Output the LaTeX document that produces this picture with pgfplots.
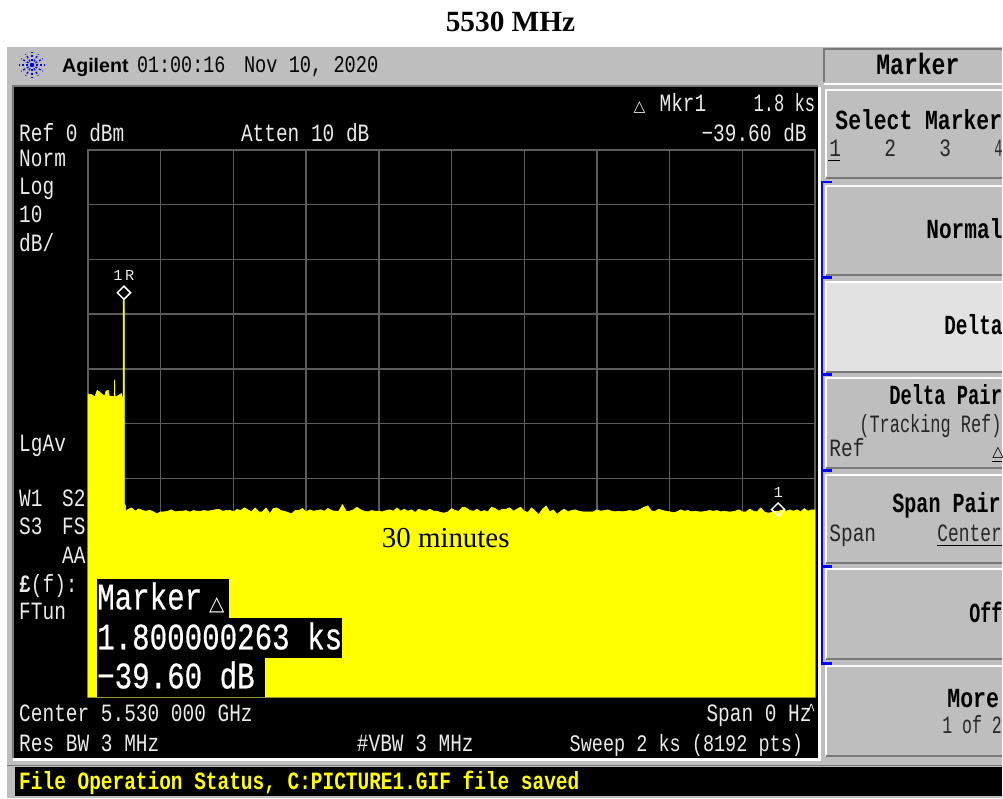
\documentclass[border=0pt]{standalone}
\usepackage{fontspec}
\usepackage{pgfplots}
\pgfplotsset{compat=1.18}
\setmainfont{Liberation Serif}
\newfontfamily\agm{Liberation Mono}
\newfontfamily\agh[FakeBold=0.6]{Liberation Mono}
\newfontfamily\ags{Liberation Sans}
\newfontfamily\agd{DejaVu Sans}

% reference is 1003x799 px, 1 px = 0.75 pt
\definecolor{panel}{RGB}{190,190,190}
\definecolor{lit}{RGB}{226,226,226}
\definecolor{edge}{RGB}{120,120,120}
\definecolor{gridc}{RGB}{92,92,92}
\definecolor{scr}{RGB}{235,235,235}
\definecolor{trace}{RGB}{255,255,0}
\definecolor{keyb}{RGB}{0,0,255}

\newcommand{\fs}[1]{\fontsize{#1pt}{#1pt}\selectfont}
\newcommand{\st}[2][1]{\scalebox{#1}[1.28]{#2}}
% screen text, small
\newcommand{\scrtx}[4][1]{\node[anchor=base west,inner sep=0pt,text=scr,font=\agm\fs{14.6}] at (#2,#3) {\st[#1]{#4}};}
% softkey text, first argument squeezes it to the reference's width
\newcommand{\keyb}[4][1]{\node[anchor=base west,inner sep=0pt,text=black,font=\agm\bfseries\fs{16.2}] at (#2,#3) {\st[#1]{#4}};}
\newcommand{\keyr}[4][1]{\node[anchor=base west,inner sep=0pt,text=black!85,font=\agm\fs{14.6}] at (#2,#3) {\st[#1]{#4}};}
% big readout
\newcommand{\readout}[3]{\node[anchor=base west,inner sep=0pt,text=white,font=\agh\fs{21.9}] at (#1,#2) {\st{#3}};}
% one softkey: top, bottom, fill
\newcommand{\softkey}[3]{%
  \fill[#3] (827,#1) rectangle (1003,#2);
  \draw[white,line width=1.5pt] (827,#2) -- (827,#1) -- (1003,#1);
  \draw[edge,line width=1.5pt] (827,#2) -- (1003,#2);}

\begin{document}
\begin{tikzpicture}
\begin{scope}[x=0.75pt,y=-0.75pt]
  \path[use as bounding box] (0,0) rectangle (1003,799);
  \fill[white] (0,0) rectangle (1003,799);
  \fill[panel] (7,47) rectangle (1003,799);
  % screen
  \fill[black] (14,87) rectangle (819,759);
  \draw[edge,line width=1.5pt] (13,759) -- (13,86) -- (819,86);
  \draw[white,line width=2pt] (13,760.5) -- (820.5,760.5) -- (820.5,87);
  % status bar
  \fill[black] (15,768) rectangle (1003,797);
  \draw[edge,line width=1pt] (7,766) -- (1003,766);
\end{scope}

\begin{axis}[
    at={(66pt,-523.5pt)},
    anchor=south west,
    scale only axis,
    width=546pt,
    height=411pt,
    xmin=0, xmax=2000,
    ymin=-100, ymax=0,
    xtick distance=200,
    ytick distance=10,
    xticklabels={},
    yticklabels={},
    major tick length=0pt,
    grid=major,
    grid style={gridc,line width=1.1pt},
    axis line style={gridc,line width=1.5pt},
]
% markers sit under the trace, the lower half of the delta one is hidden
\addplot[only marks,mark=square,mark size=3.5pt,
    mark options={white,rotate=45,line width=1.1pt,fill=black}]
    coordinates {(99,-26.1) (1898,-65.7)};
\addplot[trace,fill=trace,line width=0.45pt,line join=round] coordinates {
 (0,-100) (0,-44.6) (10,-44.7) (19,-45.1) (25.6,-43.9) (33,-44.3) (39.4,-44.7) (46.7,-44.9) (49.4,-44.1)
 (55.9,-43.9) (58.6,-45.0) (65,-45.0) (69.6,-45.1) (72.3,-45.1) (73.3,-42.0) (74.6,-45.1)
 (80.6,-45.0) (87.9,-44.7) (92.5,-44.5) (95.2,-45.6) (96.8,-45.6)
 (97.2,-27.3) (99.9,-27.3) (100.4,-64.8) (103,-64.9) (104.4,-66.1)
 (110,-65.69) (120,-65.39) (130,-66.00) (140,-65.57) (150,-65.88) (160,-66.00) (170,-65.82) (180,-66.12)
 (190,-66.48) (200,-66.12) (210,-66.12) (220,-66.00) (230,-65.75) (240,-66.12) (250,-66.00) (260,-66.00)
 (270,-65.88) (280,-66.18) (290,-65.88) (300,-66.00) (310,-66.00) (320,-65.88) (330,-66.00) (340,-65.88)
 (350,-65.75) (360,-65.63) (370,-66.00) (380,-65.88) (390,-65.82) (400,-66.12) (410,-65.69) (420,-65.88)
 (430,-65.39) (440,-65.75) (450,-66.12) (460,-65.39) (470,-66.12) (480,-66.12) (490,-65.39) (500,-66.48)
 (510,-65.51) (520,-65.39) (530,-65.88) (540,-66.00) (550,-66.24) (560,-66.48) (570,-65.88) (580,-65.88)
 (590,-65.51) (600,-66.12) (610,-65.75) (620,-66.00) (630,-65.88) (640,-65.75) (650,-66.00) (660,-65.51)
 (670,-65.88) (680,-66.00) (690,-66.00) (700,-64.78) (710,-66.00) (720,-66.00) (730,-65.75) (740,-65.27)
 (750,-65.75) (760,-66.00) (770,-66.12) (780,-65.88) (790,-66.00) (800,-66.00) (810,-66.12) (820,-65.88)
 (830,-65.75) (840,-66.00) (850,-65.39) (860,-66.00) (870,-65.63) (880,-66.00) (890,-65.75) (900,-66.24)
 (910,-65.63) (920,-65.88) (930,-66.00) (940,-65.63) (950,-66.00) (960,-66.00) (970,-66.24) (980,-66.36)
 (990,-66.12) (1000,-65.51) (1010,-65.88) (1020,-66.00) (1030,-65.27) (1040,-65.39) (1050,-65.88) (1060,-66.00)
 (1070,-65.63) (1080,-66.12) (1090,-65.88) (1100,-66.12) (1110,-65.27) (1120,-65.51) (1130,-66.00) (1140,-65.63)
 (1150,-65.63) (1160,-65.39) (1170,-66.00) (1180,-65.63) (1190,-65.27) (1200,-66.00) (1210,-66.24) (1220,-65.39)
 (1230,-66.00) (1240,-66.60) (1250,-65.63) (1260,-65.03) (1270,-66.12) (1280,-65.75) (1290,-66.60) (1300,-66.00)
 (1310,-65.63) (1320,-66.12) (1330,-65.88) (1340,-65.75) (1350,-66.00) (1360,-66.12) (1370,-66.12)
 (1380,-66.12) (1390,-66.12) (1400,-65.75) (1410,-66.00) (1420,-65.88) (1430,-65.75) (1440,-66.00) (1450,-66.12)
 (1460,-66.00) (1470,-66.12) (1480,-66.00) (1490,-65.88) (1500,-66.00) (1510,-65.88) (1520,-65.63) (1530,-65.27)
 (1540,-65.03) (1550,-66.00) (1560,-66.00) (1570,-65.63) (1580,-65.88) (1590,-66.00) (1600,-66.12) (1610,-66.24)
 (1620,-66.12) (1630,-65.75) (1640,-66.00) (1650,-65.88) (1660,-66.12) (1670,-66.00) (1680,-66.12) (1690,-66.12)
 (1700,-66.00) (1710,-65.88) (1720,-66.00) (1730,-65.88) (1740,-66.12) (1750,-66.00) (1760,-66.12) (1770,-66.12)
 (1780,-66.00) (1790,-65.75) (1800,-66.12) (1810,-66.12) (1820,-65.63) (1830,-66.00) (1840,-66.12) (1850,-65.39)
 (1860,-66.12) (1870,-66.36) (1880,-66.24) (1890,-66.00) (1900,-66.00) (1910,-65.75) (1920,-66.00) (1930,-65.75)
 (1940,-66.00) (1950,-65.75) (1960,-66.12) (1970,-65.51) (1980,-66.00) (1990,-65.75) (2000,-65.75) (2000,-100)
};
\end{axis}

\begin{scope}[x=0.75pt,y=-0.75pt]
  % title and annotation
  \node[anchor=base,inner sep=0pt,font=\bfseries\fs{22}] at (511,32) {5530 MHz};
  \node[anchor=base west,inner sep=0pt,font=\fs{21.7}] at (382,548) {30 minutes};

  % logo
  \foreach \a in {0,30,...,330}
    \draw[keyb,line width=1pt,dash pattern=on 1.6pt off 1.4pt] (32,65) -- +(\a:12.5);
  \node[anchor=base west,inner sep=0pt,font=\ags\bfseries\fs{14.7}] at (62,73) {Agilent};
  \node[anchor=base west,inner sep=0pt,font=\agm\fs{13.8}] at (137,73) {\st{01:00:16}};
  \node[anchor=base west,inner sep=0pt,font=\agm\fs{14}] at (244,73) {\st{Nov 10, 2020}};

  % screen annotations
  \scrtx{19}{142}{Ref 0 dBm}
  \scrtx{241}{142}{Atten 10 dB}
  \scrtx{19}{167}{Norm}
  \scrtx{19}{195}{Log}
  \scrtx{19}{223}{10}
  \scrtx{19}{252}{dB/}
  \scrtx{19}{452}{LgAv}
  \scrtx{19}{507}{W1}
  \scrtx{62}{507}{S2}
  \scrtx{19}{535}{S3}
  \scrtx{62}{535}{FS}
  \scrtx{62}{564}{AA}
  \scrtx{19}{593}{\textbf{£}(f):}
  \scrtx{19}{620}{FTun}
  \node[anchor=base west,inner sep=0pt,text=scr,font=\agd\bfseries\fs{11.5}] at (634,112) {△};
  \scrtx{660}{112}{Mkr1}
  \scrtx[0.88]{754}{112}{1.8 ks}
  \scrtx{702}{142}{−39.60 dB}
  \scrtx{19}{722}{Center 5.530 000 GHz}
  \scrtx{19}{752}{Res BW 3 MHz}
  \scrtx{357}{752}{\#VBW 3 MHz}
  \scrtx{707}{722}{Span 0 Hz}
  \scrtx{808}{716}{\fs{10}\textasciicircum}
  \node[anchor=base west,inner sep=0pt,text=scr,font=\agm\fs{13.9}] at (570,752) {\st{Sweep 2 ks (8192 pts)}};

  % marker labels
  \node[anchor=base,inner sep=0pt,text=scr,font=\agm\fs{11.5}] at (124,281) {1\,R};
  \node[anchor=base,inner sep=0pt,text=scr,font=\agm\fs{11.5}] at (779,498) {1};

  % marker readout
  \fill[black] (97,580) rectangle (229,619.5);
  \fill[black] (97,619) rectangle (342,658.5);
  \fill[black] (97,658) rectangle (265,697.5);
  \readout{97}{610}{Marker}
  \node[anchor=base west,inner sep=0pt,text=white,font=\agd\bfseries\fs{15}] at (209,611) {△};
  \readout{97}{650}{1.800000263 ks}
  \readout{97}{689}{−39.60 dB}

  % status line
  \node[anchor=base west,inner sep=0pt,text=trace,font=\agm\bfseries\fs{14.6}] at (19,790) {\st{File Operation Status, C:PICTURE1.GIF file saved}};

  % softkey panel
  \fill[panel] (825,49) rectangle (1003,82);
  \draw[edge,line width=1.5pt] (825,82) -- (825,49) -- (1003,49);
  \draw[white,line width=1.5pt] (825,84) -- (1003,84);
  \softkey{90}{178}{panel}
  \softkey{186}{275}{panel}
  \softkey{282}{372}{lit}
  \softkey{378}{468}{panel}
  \softkey{475}{564}{panel}
  \softkey{570}{660}{panel}
  \softkey{667}{757}{panel}
  \draw[keyb,line width=1.9pt] (833,182) -- (823,182) -- (823,664) -- (833,664)
    (823,278) -- (833,278) (823,375) -- (833,375) (823,471) -- (833,471) (823,567) -- (833,567);

  \begin{scope}
    \clip (825,47) rectangle (1003,799);
    \node[anchor=base west,inner sep=0pt,text=black,font=\agm\bfseries\fs{17.3}] at (877,75) {\st{Marker}};
    \keyb[0.99]{836}{130}{Select Marker}
    \keyr{830}{157}{1}
    \keyr{885}{157}{2}
    \keyr{940}{157}{3}
    \keyr[0.7]{995}{157}{4}
    \draw[black,line width=0.9pt] (829,161) -- (841,161);
    \keyb[0.98]{927}{239}{Normal}
    \keyb[0.9]{945}{335}{Delta}
    \keyb[0.87]{890}{405}{Delta Pair}
    \keyr[0.87]{860}{433}{(Tracking Ref)}
    \keyr{830}{457}{Ref}
    \node[anchor=base west,inner sep=0pt,font=\agd\bfseries\fs{11}] at (993,457) {△};
    \draw[black,line width=0.9pt] (993,462) -- (1003,462);
    \keyb[0.93]{893}{513}{Span Pair}
    \keyr{830}{542}{Span}
    \keyr[0.92]{938}{542}{Center}
    \draw[black,line width=0.9pt] (938,546) -- (1003,546);
    \keyb[0.85]{970}{623}{Off}
    \keyb{948}{708}{More}
    \keyr[0.85]{943}{734}{1 of 2}
  \end{scope}
\end{scope}
\end{tikzpicture}
\end{document}
